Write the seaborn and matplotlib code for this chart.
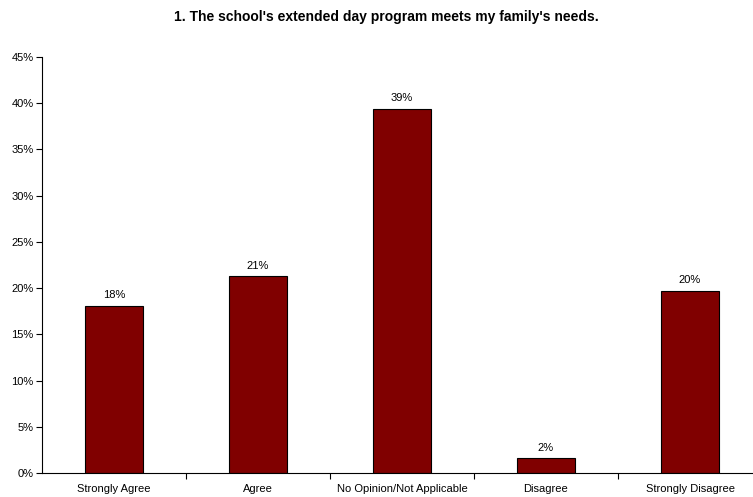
import matplotlib
matplotlib.use("Agg")
import matplotlib.pyplot as plt
from matplotlib.ticker import FixedLocator
import seaborn as sns
import pandas as pd

categories = ["Strongly Agree", "Agree", "No Opinion/Not Applicable",
              "Disagree", "Strongly Disagree"]
percentages = [18.1, 21.3, 39.4, 1.6, 19.7]
y_ticks = [0, 5, 10, 15, 20, 25, 30, 35, 40, 45]
title = "1. The school's extended day program meets my family's needs."

sns.set_theme(style="white")
plt.rcParams["font.family"] = ["Liberation Sans", "DejaVu Sans"]

df = pd.DataFrame({"response": categories, "pct": percentages})

fig = plt.figure(figsize=(7.53, 4.97), dpi=100)
# plot area runs a little past the right edge of the figure
ax = fig.add_axes([42 / 753, 24 / 497, 720 / 753, 416 / 497])

sns.barplot(data=df, x="response", y="pct", order=categories,
            color="#800000", saturation=1, width=0.4,
            edgecolor="black", linewidth=0.8, ax=ax)

for i, v in enumerate(percentages):
    ax.text(i, v + 0.6, f"{round(v)}%", ha="center", va="bottom",
            fontsize=8, color="black")

ax.set_xlim(-0.5, len(categories) - 0.5)
ax.set_ylim(0, 45)
ax.set_yticks(y_ticks)
ax.set_yticklabels([f"{t}%" for t in y_ticks], fontsize=8)
ax.set_xticks(range(len(categories)))
ax.set_xticklabels(categories, fontsize=8)
ax.xaxis.set_minor_locator(FixedLocator([i + 0.5 for i in range(len(categories))]))

ax.tick_params(axis="x", which="major", length=0, pad=8, colors="black")
ax.tick_params(axis="x", which="minor", length=4, width=0.8, direction="out",
               color="black", bottom=True)
ax.tick_params(axis="y", length=4, width=0.8, direction="out", left=True,
               pad=2, colors="black")

ax.set_xlabel("")
ax.set_ylabel("")
for side in ["top", "right"]:
    ax.spines[side].set_visible(False)
for side in ["left", "bottom"]:
    ax.spines[side].set_color("black")
    ax.spines[side].set_linewidth(0.8)

fig.text(386 / 753, 1 - 17 / 497, title, ha="center", va="center",
         fontsize=10, fontweight="bold", color="black")

fig.savefig("out.png", dpi=100, facecolor="white")
